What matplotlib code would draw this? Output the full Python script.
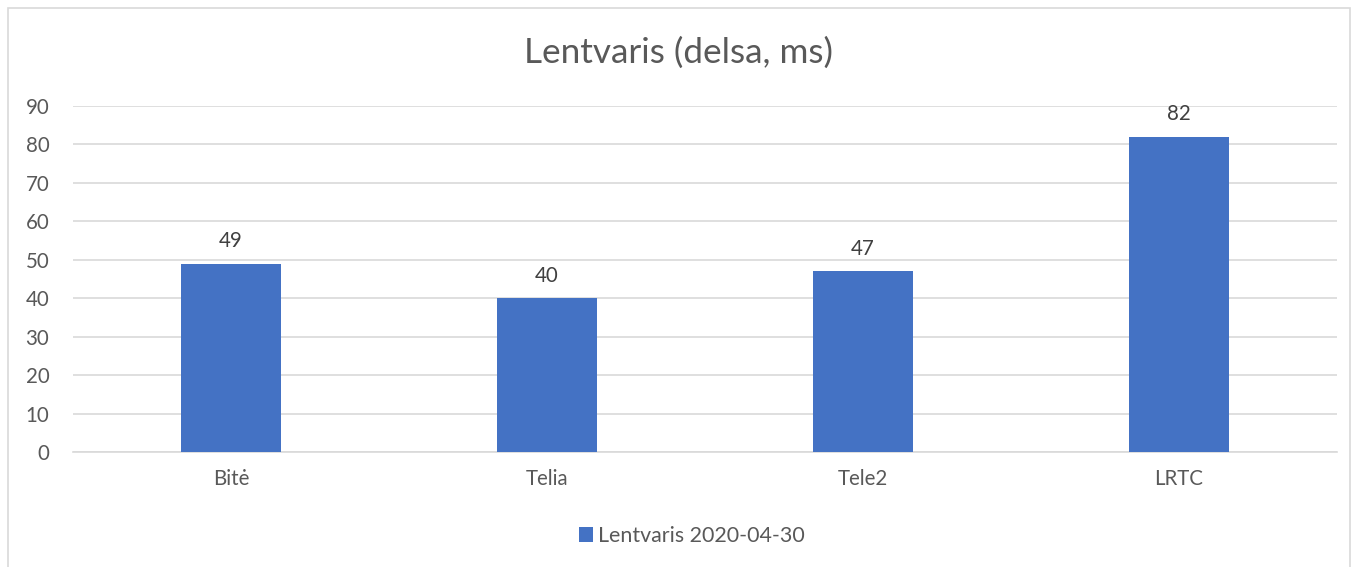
import matplotlib
matplotlib.use("Agg")
import matplotlib.pyplot as plt
from matplotlib.patches import Rectangle

categories = ["Bitė", "Telia", "Tele2", "LRTC"]
values = [49, 40, 47, 82]
series_name = "Lentvaris 2020-04-30"
title = "Lentvaris (delsa, ms)"
yticks = list(range(0, 91, 10))

W, H = 1358, 567
fig = plt.figure(figsize=(W / 100, H / 100), dpi=100)
plt.rcParams['font.family'] = ['Lato', 'DejaVu Sans']

# chart border
fig.patches.append(Rectangle((8 / W, -0.01), (1350 - 8) / W, 1 - 8 / H + 0.01,
                             transform=fig.transFigure, fill=False,
                             edgecolor="#d9d9d9", linewidth=1.2))

ax = fig.add_axes([73 / W, 1 - 452 / H, (1337 - 73) / W, (452 - 106) / H])
x = list(range(len(categories)))
bars = ax.bar(x, values, width=0.316, color="#4472c4", zorder=3, label=series_name)
ax.set_xlim(-0.5, len(categories) - 0.5)
ax.set_ylim(0, 90)
ax.set_yticks(yticks)
ax.set_xticks(x)
ax.set_xticklabels(categories)
ax.grid(axis="y", color="#d9d9d9", linewidth=1.2, zorder=0)
for s in ["top", "right", "left"]:
    ax.spines[s].set_visible(False)
ax.spines["bottom"].set_color("#d9d9d9")
ax.spines["bottom"].set_linewidth(1.2)
ax.tick_params(axis="both", length=0, labelsize=14.8, colors="#595959")
ax.tick_params(axis="y", pad=17)
ax.tick_params(axis="x", pad=12)
for b, v in zip(bars, values):
    ax.annotate(str(v), (b.get_x() + b.get_width() / 2, v), xytext=(0, 9),
                textcoords="offset points", ha="center", va="bottom",
                fontsize=14.8, color="#404040")

fig.text(0.5, 1 - 53 / H, title, ha="center", va="center", fontsize=25.3, color="#595959")
leg = fig.legend(handles=[bars], labels=[series_name], loc="center",
                 bbox_to_anchor=(692 / W, 1 - 536 / H), frameon=False, fontsize=15.4,
                 handlelength=0.65, handleheight=0.65, handletextpad=0.25)
for t in leg.get_texts():
    t.set_color("#595959")

fig.savefig("out.png", dpi=100)
